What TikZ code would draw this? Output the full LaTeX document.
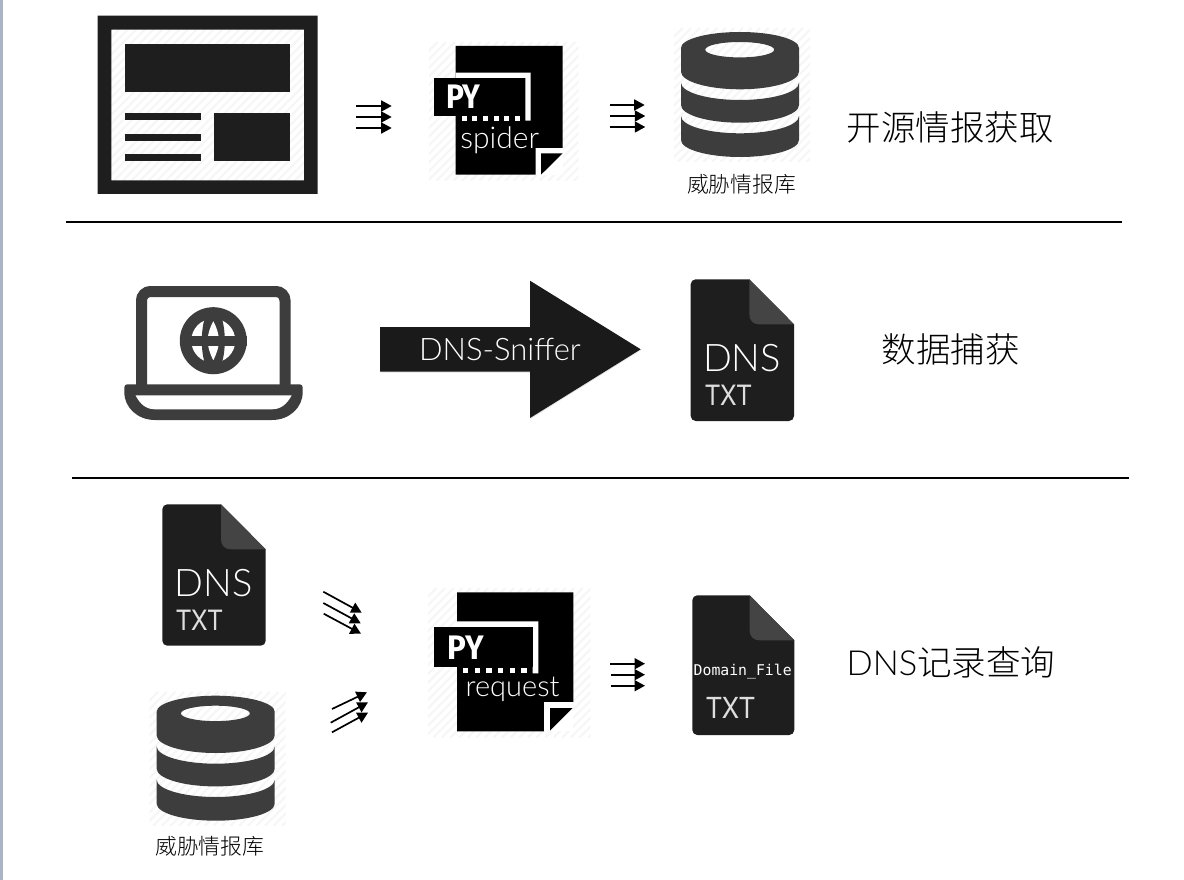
\documentclass[tikz,border=0pt]{standalone}
\usepackage{fontspec}
\usetikzlibrary{arrows.meta}
\setmainfont{TeX Gyre Heros}
\newfontfamily\lightf{Lato Light}
\newfontfamily\cjkf{Noto Sans CJK SC Light}
\newfontfamily\monof{DejaVu Sans Mono}
\newfontfamily\pyf{Fira Sans Bold}
\definecolor{darkfile}{HTML}{1E1E1E}
\definecolor{flap}{HTML}{444444}
\definecolor{dbgray}{HTML}{3D3D3D}
\definecolor{hatchc}{HTML}{F6F6F6}
\definecolor{stripe}{HTML}{AAB4C4}
\definecolor{txtc}{HTML}{DEDEDE}
\definecolor{bigarrow}{HTML}{1A1A1A}
\tikzset{
  tri/.style={line width=1.7pt,black,-{Triangle[length=10.5pt,width=11pt]}},
  rule/.style={line width=2pt,black},
  txt/.style={inner sep=0pt,outer sep=0pt,anchor=base},
  hatchl/.style={line width=2pt,hatchc},
  txtfile/.style={txt,txtc,font=\fontsize{28}{34}\selectfont},
}
\newcommand{\hatchbg}[4]{%
  \begin{scope}
    \clip (#1,#2) rectangle (#3,#4);
    \pgfmathsetmacro{\hh}{#4-#2}
    \pgfmathtruncatemacro{\nn}{(#3-#1+#4-#2)/8.6+1}
    \foreach \k in {0,...,\nn}{
      \draw[hatchl] ({#1-\hh+\k*8.6},#4) -- ++(\hh,-\hh);
    }
  \end{scope}}
% file icon: x0,y0,x1,y1
\newcommand{\fileicon}[4]{%
  \fill[darkfile] ({#1+5},#2) -- ({#3-44.7},#2) -- (#3,{#2+45}) -- (#3,{#4-5})
     arc[start angle=0,end angle=90,radius=5] -- ({#1+5},#4)
     arc[start angle=90,end angle=180,radius=5] -- (#1,{#2+5})
     arc[start angle=180,end angle=270,radius=5] -- cycle;
  \fill[flap] ({#3-44.7},#2) -- (#3,{#2+45}) -- ({#3-35},{#2+45})
     .. controls ({#3-41},{#2+45}) and ({#3-44.7},{#2+41}) .. ({#3-44.7},{#2+35}) -- cycle;}
% database icon, drawn at its first position and shifted
\newcommand{\dbicon}[2]{%
  \begin{scope}[shift={(#1,#2)}]
    \hatchbg{674}{28}{810}{162}
    \fill[dbgray,even odd rule] (681,48) arc[start angle=180,end angle=360,x radius=59,y radius=16]
       -- (799,71.7) arc[start angle=0,end angle=180,x radius=59,y radius=17.6] -- cycle
       (739.7,49.7) ellipse[x radius=34.5,y radius=7.7];
    \fill[dbgray] (681,82.7) arc[start angle=180,end angle=0,x radius=59,y radius=17.3]
       -- (799,105) arc[start angle=0,end angle=180,x radius=59,y radius=17.7] -- cycle;
    \fill[dbgray] (681,116) arc[start angle=180,end angle=0,x radius=59,y radius=17.3]
       -- (799,140) arc[start angle=0,end angle=180,x radius=59,y radius=17] -- cycle;
  \end{scope}}
\begin{document}
\begin{tikzpicture}[x=1pt,y=-1pt]
\useasboundingbox (0,0) rectangle (1184,880);
\fill[white] (0,0) rectangle (1184,880);
\fill[stripe] (0,0) rectangle (3,880);

% ---- rules
\coordinate (r1a) at (65.5,222); \coordinate (r1b) at (1122,222);
\coordinate (r2a) at (72,478); \coordinate (r2b) at (1129,478);
\draw[rule] (r1a) -- (r1b);
\draw[rule] (r2a) -- (r2b);

% ---- web page icon
\hatchbg{111}{29}{304}{181}
\fill[darkfile,even odd rule] (97.7,15.7) rectangle (317.7,194) (111.3,29.7) rectangle (304,180.3);
\fill[darkfile] (125,44.3) rectangle (290.3,92.3);
\fill[darkfile] (125,113) rectangle (201,120);
\fill[darkfile] (125,133.7) rectangle (201,140.7);
\fill[darkfile] (125,154.3) rectangle (201,161.3);
\fill[darkfile] (214.3,113) rectangle (290.3,161);

% ---- PY spider icon
\hatchbg{429}{42}{578.7}{180.7}
\fill[black] (455.7,46) -- (562.7,46) -- (562.7,148) -- (535.7,148) -- (535.7,174.7) -- (455.7,174.7) -- cycle;
\fill[white] (535.7,148) rectangle (562.7,174.7);
\fill[black] (541,153.3) -- (562.7,153.3) -- (541,174.7) -- cycle;
\fill[white] (455.7,72.7) -- (530.7,72.7) -- (530.7,120.7) -- (525.3,120.7) -- (525.3,78) -- (455.7,78) -- cycle;
\fill[black] (434.3,78) rectangle (525.3,115.7);
\foreach \k in {0,...,5} \fill[white] ({461.7+\k*10.67},116) rectangle ++(5,4.7);
\node[txt,white,font=\pyf\fontsize{34}{40}\selectfont] (py1) at (463.3,109) {\scalebox{0.88}[1]{PY}};
\node[txt,white,font=\lightf\fontsize{30}{34}\selectfont] (spider) at (499.7,148.5) {spider};

% ---- database 1
\dbicon{0}{0}
\node[txt,font=\cjkf\fontsize{21.8}{26}\selectfont] (dbl1) at (741.5,192.5) {威胁情报库};

% ---- headings
\node[txt,font=\cjkf\fontsize{34.5}{40}\selectfont] (h1) at (950,141) {开源情报获取};
\node[txt,font=\cjkf\fontsize{34.5}{40}\selectfont] (h2) at (950.5,362) {数据捕获};
\node[txt,font=\cjkf\fontsize{34.5}{40}\selectfont] (h3) at (951,675) {{\lightf DNS}记录查询};

% ---- triple arrows
\foreach \n/\xa/\xb/\y in {a/356/391.7/106, b/356/391.7/117, c/356/391.7/128,
                           d/610/644.7/105, e/610/645.3/116, f/610/645.3/127,
                           g/610/645/663.7, h/611/645/674.7, i/611/645/685.7}{
  \coordinate (s\n) at (\xa,\y);
  \coordinate (t\n) at (\xb,\y);
  \draw[tri] (s\n) -- (t\n);
}
\foreach \n/\xa/\ya/\xb/\yb in {j/323.3/591.7/361.7/612.7, k/323.3/603/360.7/623.3, l/323.7/613.7/361/633.7,
                                m/332/709/367/692.3, n/330.7/722.7/368/702.3, o/332/732.3/368/712.7}{
  \coordinate (s\n) at (\xa,\ya);
  \coordinate (t\n) at (\xb,\yb);
  \draw[tri] (s\n) -- (t\n);
}

% ---- laptop
\draw[dbgray,line width=11pt,rounded corners=9pt] (141.5,390) -- (141.5,291.5) -- (285,291.5) -- (285,390);
\fill[dbgray] (127.3,384.3) -- (299.7,384.3) arc[start angle=-90,end angle=0,radius=3] -- (302.7,392)
  .. controls (302.7,408) and (289,420) .. (272,420) -- (155,420)
  .. controls (138,420) and (124.3,408) .. (124.3,392) -- (124.3,387.3) arc[start angle=180,end angle=270,radius=3] -- cycle;
\fill[white] (135.5,395.3) -- (291.7,395.3) .. controls (287,404) and (281,409.3) .. (272,409.3) -- (155,409.3)
  .. controls (146,409.3) and (140,404) .. (135.5,395.3) -- cycle;
\fill[dbgray] (213.3,340.7) circle[radius=33.5];
\fill[white] (213.3,340.7) circle[radius=22];
\fill[dbgray] (213.3,340.7) ellipse[x radius=11.5,y radius=33.5];
\fill[white] (213.3,321.2) .. controls (217,328) and (219,335) .. (219,340.7)
   .. controls (219,346) and (217,353) .. (213.3,360.2)
   .. controls (209.6,353) and (207.6,346) .. (207.6,340.7)
   .. controls (207.6,335) and (209.6,328) .. (213.3,321.2) -- cycle;
\fill[dbgray] (180,335.6) rectangle (246.6,345.8);

% ---- big arrow
\fill[black!35,opacity=.3] (380.5,328) -- (530.5,328) -- (530.5,281.5) -- (641.3,350) -- (530.5,419) -- (530.5,372.7) -- (380.5,372.7) -- cycle;
\fill[bigarrow] (380,327) -- (530,327) -- (530,280.7) -- (640.7,349.3) -- (530,418) -- (530,371.7) -- (380,371.7) -- cycle;
\node[txt,white,font=\lightf\fontsize{31}{36}\selectfont] (sniff) at (500,360.7) {DNS-Sniffer};

% ---- DNS file 1
\fileicon{690.7}{279.3}{794}{421}
\node[txt,white,font=\lightf\fontsize{38}{44}\selectfont] (dns1) at (742,371.7) {DNS};
\node[txtfile] (txt1) at (728.3,405) {\scalebox{0.88}[1]{TXT}};

% ---- DNS file 2
\fileicon{162.3}{504.3}{265.7}{645.7}
\node[txt,white,font=\lightf\fontsize{38}{44}\selectfont] (dns2) at (213.6,596) {DNS};
\node[txtfile] (txt2) at (199.3,630) {\scalebox{0.88}[1]{TXT}};

% ---- database 2
\dbicon{-524.3}{663.7}
\node[txt,font=\cjkf\fontsize{21.8}{26}\selectfont] (dbl2) at (209.8,854) {威胁情报库};

% ---- PY request icon
\hatchbg{428}{588}{590.7}{737.3}
\fill[black] (457,592.3) -- (573.3,592.3) -- (573.3,702) -- (544,702) -- (544,731.3) -- (457,731.3) -- cycle;
\fill[white] (544,702) rectangle (573.3,731.3);
\fill[black] (550,708) -- (572.7,708) -- (550,730.7) -- cycle;
\fill[white] (457,621.3) -- (538.3,621.3) -- (538.3,673.3) -- (532.7,673.3) -- (532.7,627) -- (457,627) -- cycle;
\fill[black] (434,627) rectangle (532.7,667.3);
\foreach \k in {0,...,5} \fill[white] ({463+\k*11.67},668.3) rectangle ++(5.3,5);
\node[txt,white,font=\pyf\fontsize{34}{40}\selectfont] (py2) at (465.5,659.3) {\scalebox{0.92}[1]{PY}};
\node[txt,white,font=\lightf\fontsize{29}{34}\selectfont] (request) at (512.5,696.7) {request};

% ---- Domain file
\fileicon{692.3}{595.3}{794.3}{735}
\node[txt,white,font=\monof\fontsize{14.8}{18}\selectfont] (dom) at (742.7,675) {Domain\_File};
\node[txtfile,font=\fontsize{29}{34}\selectfont] (txt3) at (730.5,718.3) {\scalebox{0.89}[1]{TXT}};
\end{tikzpicture}
\end{document}
